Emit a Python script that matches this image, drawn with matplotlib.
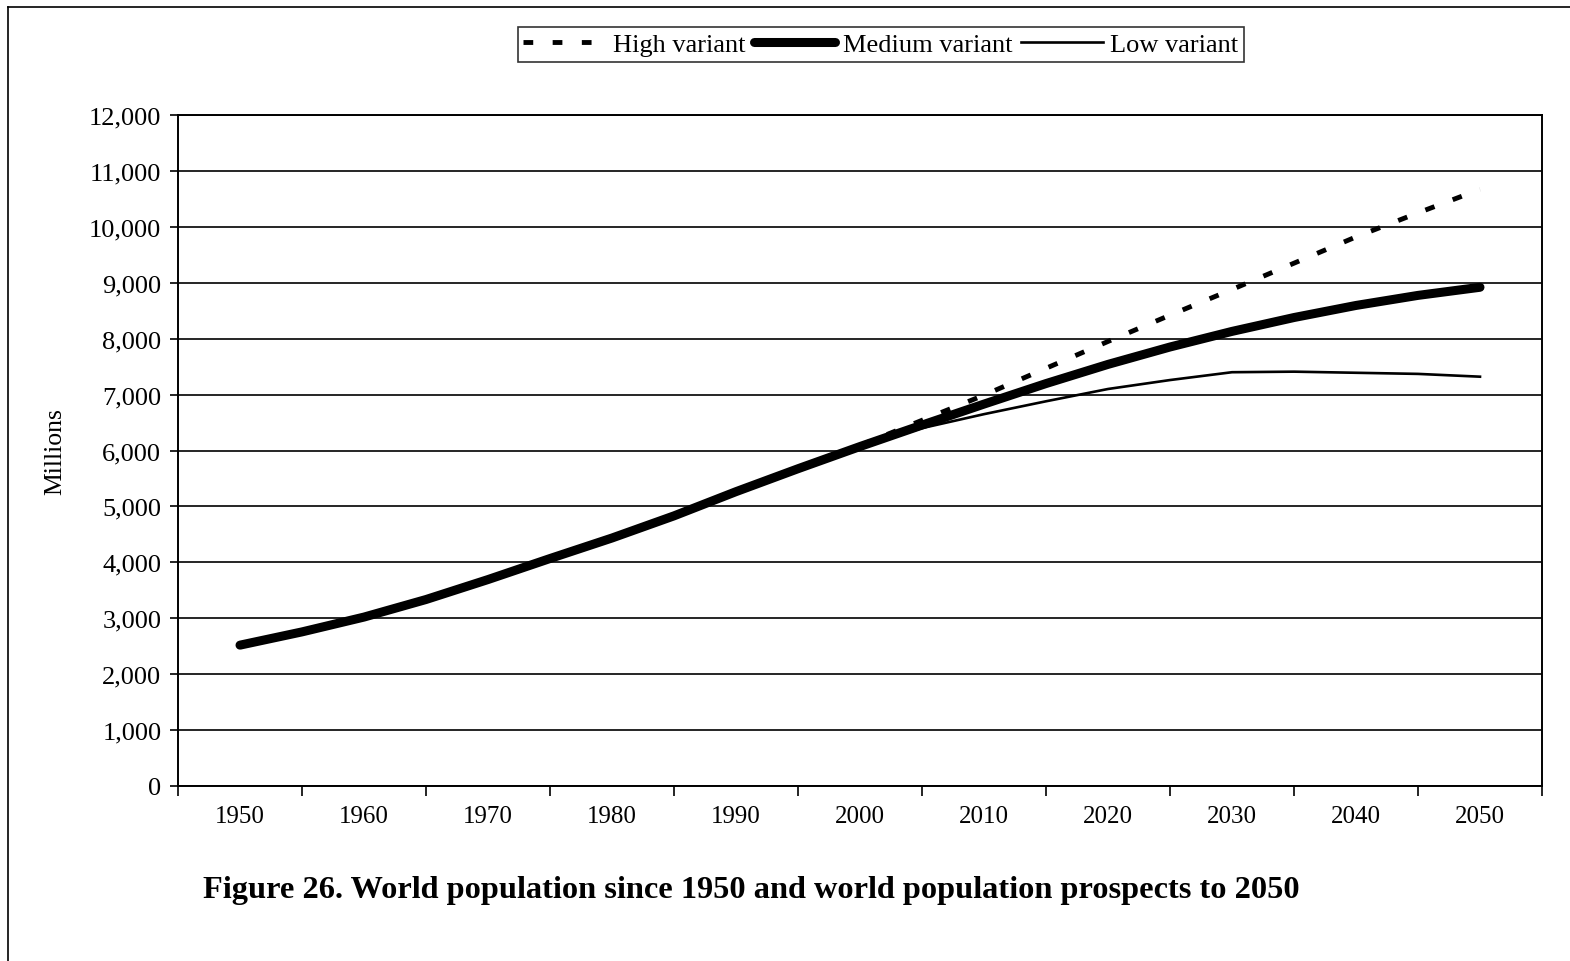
"""World population since 1950 and prospects to 2050 (high / medium / low variants)"""

import matplotlib
matplotlib.use("Agg")
import matplotlib.pyplot as plt
from matplotlib.lines import Line2D

plt.rcParams['font.family'] = ['Liberation Serif', 'DejaVu Serif']

# 5-year points, millions
years = [1950, 1955, 1960, 1965, 1970, 1975, 1980, 1985, 1990, 1995, 2000,
         2005, 2010, 2015, 2020, 2025, 2030, 2035, 2040, 2045, 2050]
medium = [2519, 2756, 3021, 3335, 3692, 4068, 4435, 4831, 5264, 5674, 6071,
          6454, 6830, 7197, 7540, 7851, 8130, 8378, 8594, 8774, 8919]
proj_years = [2000, 2005, 2010, 2015, 2020, 2025, 2030, 2035, 2040, 2045, 2050]
high = [6090, 6540, 6990, 7470, 7950, 8420, 8880, 9350, 9820, 10250, 10670]
low = [6071, 6400, 6650, 6880, 7100, 7260, 7400, 7410, 7390, 7370, 7320]

label_years = list(range(1950, 2051, 10))
y_ticks = list(range(0, 12001, 1000))

fig = plt.figure(figsize=(15.7, 9.62), dpi=100)
ax = fig.add_axes([178 / 1570, 1 - 787 / 962, (1542 - 178) / 1570, (787 - 116) / 962])

ax.plot(years, medium, color="black", linewidth=6.5,
        solid_capstyle="round", label="Medium variant")
ax.plot(proj_years, low, color="black", linewidth=1.9, label="Low variant")
# dashes drawn on top so they show along the upper edge of the thick line
ax.plot(proj_years, high, color="black", linewidth=3.5,
        linestyle=(0, (2, 4)), dash_capstyle="butt", label="High variant")

ax.set_xlim(1945, 2055)
ax.set_ylim(0, 12000)

# category boundaries carry the tick marks, labels sit in between
ax.set_xticks(list(range(1945, 2056, 10)))
ax.set_xticklabels([])
ax.set_xticks(label_years, minor=True)
ax.set_xticklabels([str(y) for y in label_years], minor=True)
ax.tick_params(axis="x", which="major", direction="out", length=7, width=1.2)
ax.tick_params(axis="x", which="minor", length=0, pad=14, labelsize=18)

ax.set_yticks(y_ticks)
ax.set_yticklabels([f"{v:,}" for v in y_ticks])
ax.tick_params(axis="y", direction="out", length=6, width=1.2, pad=6,
               labelsize=19)

ax.grid(axis="y", color="black", linewidth=1.2)
ax.set_axisbelow(True)
for s in ax.spines.values():
    s.set_linewidth(1.4)

ax.set_ylabel("Millions", fontsize=18.5, labelpad=16)

# legend order: high, medium, low
h, l = ax.get_legend_handles_labels()
order = [2, 0, 1]
leg = fig.legend([h[i] for i in order], [l[i] for i in order],
                 loc="upper center", bbox_to_anchor=(881 / 1570, 1 - 28 / 962),
                 ncol=3, fontsize=19, frameon=True, fancybox=False,
                 edgecolor="black", handlelength=3.1, handletextpad=0.3,
                 columnspacing=0.3, borderpad=0.22, borderaxespad=0)
leg.get_frame().set_linewidth(1.2)

fig.text(751 / 1570, 1 - 891 / 962,
         "Figure 26. World population since 1950 and world population prospects to 2050",
         ha="center", va="center", fontsize=23.3, fontweight="bold")

# scanned page frame (left and top edges)
fig.add_artist(Line2D([8 / 1570, 8 / 1570], [0, 1 - 8 / 962],
                      transform=fig.transFigure, color="black", linewidth=1.2))
fig.add_artist(Line2D([8 / 1570, 1], [1 - 8 / 962, 1 - 8 / 962],
                      transform=fig.transFigure, color="black", linewidth=1.2))

fig.savefig("out.png", dpi=100)
